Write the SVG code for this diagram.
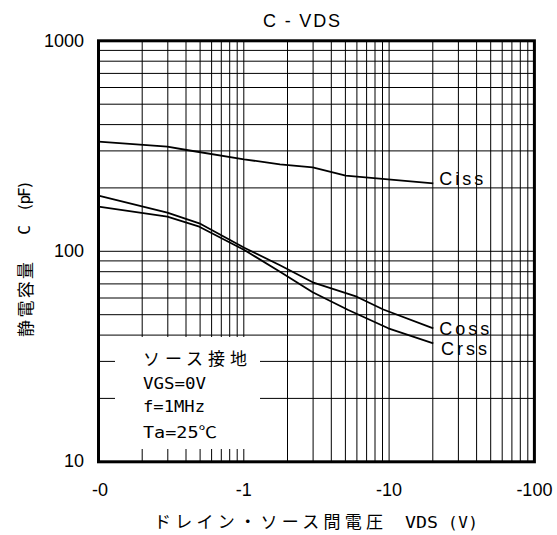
<svg xmlns="http://www.w3.org/2000/svg" width="557" height="535" viewBox="0 0 557 535">
<style>
.g{stroke:#000;stroke-width:1;fill:none}
.c{stroke:#000;stroke-width:1.8;fill:none;stroke-linejoin:round}
.a{font-family:"Liberation Sans",Arial,sans-serif;font-size:18px;fill:#000}
.j{font-family:"Noto Sans CJK JP",sans-serif;font-size:17px;fill:#000}
.m{font-family:"DejaVu Sans Mono","Noto Sans CJK JP",monospace;font-size:16px;fill:#000}
</style>
<rect width="557" height="535" fill="#fff"/>
<g id="grid">
<path class="g" d="M142.2 40.8V461.8M167.8 40.8V461.8M186 40.8V461.8M200.1 40.8V461.8M211.6 40.8V461.8M221.3 40.8V461.8M229.7 40.8V461.8M237.2 40.8V461.8M243.8 40.8V461.8M287.5 40.8V461.8M313.1 40.8V461.8M331.3 40.8V461.8M345.4 40.8V461.8M356.9 40.8V461.8M366.6 40.8V461.8M375 40.8V461.8M382.5 40.8V461.8M389.1 40.8V461.8M432.8 40.8V461.8M458.4 40.8V461.8M476.6 40.8V461.8M490.7 40.8V461.8M502.2 40.8V461.8M511.9 40.8V461.8M520.3 40.8V461.8M527.8 40.8V461.8"/>
<path class="g" d="M98.5 50.4H534.4M98.5 61.2H534.4M98.5 73.4H534.4M98.5 87.5H534.4M98.5 104.2H534.4M98.5 124.6H534.4M98.5 150.9H534.4M98.5 187.9H534.4M98.5 251.3H534.4M98.5 260.9H534.4M98.5 271.7H534.4M98.5 283.9H534.4M98.5 298H534.4M98.5 314.7H534.4M98.5 335.1H534.4M98.5 361.4H534.4M98.5 398.4H534.4"/>
</g>
<g id="curves">
<polyline class="c" points="98.5,141.7 167.3,146.7 186.7,150 244,159.3 280,164.3 312.7,167.3 345.7,175.7 433.3,183.3"/>
<polyline class="c" points="98.5,195.7 167.3,212.7 199.3,223.3 244.3,247.7 280,265.3 312.7,282.3 356.7,296.7 383.3,309.5 433.3,328.3"/>
<polyline class="c" points="98.5,206.7 167.3,216.7 199.3,226.7 244.3,250 280,271.7 312.7,292.3 348.3,310 388.3,328.3 433.3,343.3"/>
</g>
<g id="legend">
<rect x="115" y="337" width="145" height="112" fill="#fff"/>
<text class="j" x="143" y="365" textLength="104" lengthAdjust="spacing">ソース接地</text>
<text class="m" x="143" y="389" textLength="63" lengthAdjust="spacingAndGlyphs">VGS=0V</text>
<text class="m" x="143" y="412" textLength="62" lengthAdjust="spacingAndGlyphs">f=1MHz</text>
<text class="m" x="143" y="438" textLength="74" lengthAdjust="spacingAndGlyphs">Ta=25℃</text>
</g>
<g id="frame">
<rect x="98.5" y="40.8" width="435.9" height="421" fill="none" stroke="#000" stroke-width="3"/>
</g>
<g id="curve-labels">
<text class="a" x="439.3" y="185" letter-spacing="3">Ciss</text>
<text class="a" x="439.3" y="335" letter-spacing="3">Coss</text>
<text class="a" x="441" y="355" letter-spacing="3">Crss</text>
</g>
<g id="title">
<text class="a" x="263" y="27" textLength="77" lengthAdjust="spacing">C - VDS</text>
</g>
<g id="y-ticks" text-anchor="end">
<text class="a" x="84" y="47">1000</text>
<text class="a" x="84" y="257">100</text>
<text class="a" x="84" y="467">10</text>
</g>
<g id="x-ticks" text-anchor="middle">
<text class="a" x="100" y="496">-0</text>
<text class="a" x="243.8" y="496">-1</text>
<text class="a" x="389.1" y="496">-10</text>
<text class="a" x="534.4" y="496">-100</text>
</g>
<g id="y-label">
<text class="j" transform="translate(31.5,299.4) rotate(-90)" text-anchor="middle" textLength="75" lengthAdjust="spacing">静電容量</text>
<text class="m" transform="translate(30,230) rotate(-90)" text-anchor="middle">C</text>
<text class="m" transform="translate(30,196) rotate(-90)" text-anchor="middle" textLength="32" lengthAdjust="spacing">(pF)</text>
</g>
<g id="x-label">
<text class="j" x="154" y="528" textLength="229" lengthAdjust="spacing">ドレイン・ソース間電圧</text>
<text class="m" x="405" y="528" textLength="33" lengthAdjust="spacingAndGlyphs">VDS</text>
<text class="m" x="448" y="528" textLength="30" lengthAdjust="spacing">(V)</text>
</g>
</svg>
